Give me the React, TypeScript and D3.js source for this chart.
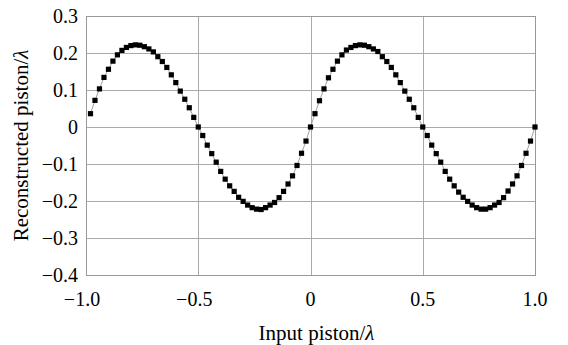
import React from "react";
import * as d3 from "d3";

const xValues: number[] = [
  -0.98, -0.96, -0.94, -0.92, -0.9, -0.88, -0.86, -0.84, -0.82, -0.8,
  -0.78, -0.76, -0.74, -0.72, -0.7, -0.68, -0.66, -0.64, -0.62, -0.6,
  -0.58, -0.56, -0.54, -0.52, -0.5, -0.48, -0.46, -0.44, -0.42, -0.4,
  -0.38, -0.36, -0.34, -0.32, -0.3, -0.28, -0.26, -0.24, -0.22, -0.2,
  -0.18, -0.16, -0.14, -0.12, -0.1, -0.08, -0.06, -0.04, -0.02, 0,
  0.02, 0.04, 0.06, 0.08, 0.1, 0.12, 0.14, 0.16, 0.18, 0.2,
  0.22, 0.24, 0.26, 0.28, 0.3, 0.32, 0.34, 0.36, 0.38, 0.4,
  0.42, 0.44, 0.46, 0.48, 0.5, 0.52, 0.54, 0.56, 0.58, 0.6,
  0.62, 0.64, 0.66, 0.68, 0.7, 0.72, 0.74, 0.76, 0.78, 0.8,
  0.82, 0.84, 0.86, 0.88, 0.9, 0.92, 0.94, 0.96, 0.98, 1.0,
];

const yValues: number[] = [
  0.036, 0.072, 0.103, 0.134, 0.156, 0.178, 0.195, 0.207, 0.215, 0.22,
  0.222, 0.221, 0.217, 0.211, 0.203, 0.19, 0.177, 0.161, 0.141, 0.12,
  0.097, 0.075, 0.052, 0.026, 0, -0.023, -0.049, -0.072, -0.095, -0.12,
  -0.141, -0.159, -0.174, -0.19, -0.201, -0.211, -0.218, -0.222, -0.223, -0.218,
  -0.211, -0.204, -0.191, -0.174, -0.154, -0.132, -0.104, -0.071, -0.038, 0,
  0.036, 0.071, 0.103, 0.133, 0.156, 0.178, 0.195, 0.208, 0.215, 0.22,
  0.222, 0.221, 0.217, 0.211, 0.204, 0.19, 0.177, 0.161, 0.141, 0.12,
  0.097, 0.075, 0.052, 0.026, 0, -0.023, -0.049, -0.072, -0.095, -0.12,
  -0.141, -0.159, -0.176, -0.19, -0.201, -0.211, -0.218, -0.222, -0.222, -0.218,
  -0.211, -0.204, -0.191, -0.173, -0.154, -0.132, -0.104, -0.071, -0.038, 0,
];

const xTicks: number[] = [-1.0, -0.5, 0, 0.5, 1.0];
const xTickLabels: string[] = ["\u22121.0", "\u22120.5", "0", "0.5", "1.0"];
const yTicks: number[] = [0.3, 0.2, 0.1, 0, -0.1, -0.2, -0.3, -0.4];
const yTickLabels: string[] = ["0.3", "0.2", "0.1", "0", "\u22120.1", "\u22120.2", "\u22120.3", "\u22120.4"];

const W = 568;
const H = 345;
const margin = { left: 86, right: 33, top: 16, bottom: 70 };
const FONT = "'Liberation Serif', 'Times New Roman', serif";

export default function App() {
  const x = d3.scaleLinear().domain([-1, 1]).range([margin.left, W - margin.right]);
  const y = d3.scaleLinear().domain([-0.4, 0.3]).range([H - margin.bottom, margin.top]);
  const pts = xValues.map((v, i) => [v, yValues[i]] as [number, number]);
  const line = d3
    .line<[number, number]>()
    .x((d) => x(d[0]))
    .y((d) => y(d[1]));
  const ms = 5.2;
  const [x0, x1] = x.range();
  const [y0, y1] = y.range();
  return (
    <svg
      width={W}
      height={H}
      style={{ position: "absolute", left: 0, top: 0, background: "#fff" }}
      fontFamily={FONT}
    >
      <rect x={0} y={0} width={W} height={H} fill="#fff" />
      {yTicks.map((t) => (
        <line key={"gy" + t} x1={x0} x2={x1} y1={Math.round(y(t)) + 0.5} y2={Math.round(y(t)) + 0.5} stroke="#aaa" strokeWidth={1} />
      ))}
      {xTicks.map((t) => (
        <line key={"gx" + t} y1={y1} y2={y0} x1={Math.round(x(t)) + 0.5} x2={Math.round(x(t)) + 0.5} stroke="#aaa" strokeWidth={1} />
      ))}
      <rect x={x0 + 0.5} y={y1 + 0.5} width={x1 - x0} height={y0 - y1} fill="none" stroke="#999" strokeWidth={1} />
      <path d={line(pts) || ""} fill="none" stroke="#888" strokeWidth={0.8} />
      {pts.map((p, i) => (
        <rect key={i} x={x(p[0]) - ms / 2} y={y(p[1]) - ms / 2} width={ms} height={ms} fill="#000" />
      ))}
      {yTicks.map((t, i) => (
        <text key={"ty" + t} x={78} y={y(t) + 7} textAnchor="end" fontSize={20} fill="#000">
          {yTickLabels[i]}
        </text>
      ))}
      {xTicks.map((t, i) => (
        <text key={"tx" + t} x={x(t) - (xTickLabels[i].startsWith("\u2212") ? 4 : 0)} y={306} textAnchor="middle" fontSize={20} fill="#000">
          {xTickLabels[i]}
        </text>
      ))}
      <text x={(x0 + x1) / 2 + 6} y={340} textAnchor="middle" fontSize={21} fill="#000">
        Input piston/<tspan fontStyle="italic">λ</tspan>
      </text>
      <text
        transform={`translate(28,${(y0 + y1) / 2}) rotate(-90)`}
        textAnchor="middle"
        fontSize={21}
        fill="#000"
      >
        Reconstructed piston/<tspan fontStyle="italic">λ</tspan>
      </text>
    </svg>
  );
}
